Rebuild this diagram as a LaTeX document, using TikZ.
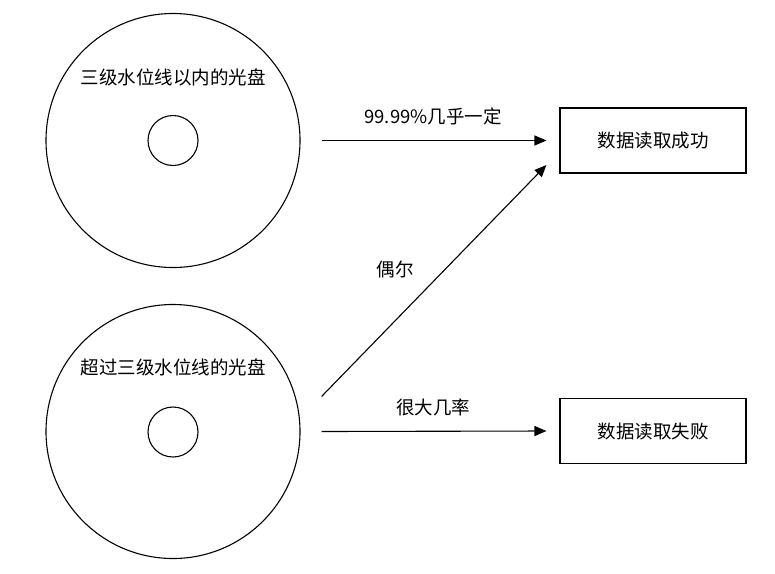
\documentclass[tikz,border=0pt]{standalone}
\usepackage{fontspec}
\setmainfont{Noto Sans CJK SC}
\usepackage{tikz}
\usetikzlibrary{arrows.meta,positioning,calc}
\newcommand{\lbl}{\fontsize{18.5}{22}\selectfont}

\begin{document}
\begin{tikzpicture}[
    x=1pt,y=-1pt,
    disque/.style  = {circle, draw=black, line width=1.1pt, minimum size=254pt,
                      inner sep=0pt},
    trou/.style    = {circle, draw=black, line width=1.1pt, minimum size=50pt,
                      inner sep=0pt},
    boite/.style   = {rectangle, draw=black, line width=1.1pt,
                      minimum width=186pt, minimum height=65pt, font=\lbl},
    texte/.style   = {font=\lbl, inner sep=0pt},
    fleche/.style  = {black, line width=1.1pt,
                      -{Triangle[length=12pt,width=10pt]}},
  ]
  \useasboundingbox (0,0) rectangle (775,573);

  % ── Disques ─────────────────────────────────────────────────────────────
  \node[disque] (discA) at (173,140.5) {};
  \node[trou]   (trouA) at (173,140.5) {};
  \node[texte]  (nomA)  at (173,77)    {三级水位线以内的光盘};

  \node[disque] (discB) at (173,431.5) {};
  \node[trou]   (trouB) at (173,432)   {};
  \node[texte]  (nomB)  at (173,367)   {超过三级水位线的光盘};

  % ── Résultats ───────────────────────────────────────────────────────────
  \node[boite] (succes) at (653,140.5) {数据读取成功};
  \node[boite] (echec)  at (653,431)   {数据读取失败};

  % ── Liaisons ────────────────────────────────────────────────────────────
  \draw[fleche] ([xshift=21pt]discA.east) -- ([xshift=-13pt]succes.west);
  \draw[fleche] ([xshift=21pt,yshift=35pt]discB.east)
                -- ([xshift=-13pt,yshift=-24.5pt]succes.west);
  \draw[fleche] ([xshift=21pt]discB.east) -- ([xshift=-13pt]echec.west);

  \node[texte] (pA) at (433,116) {99.99\%几乎一定};
  \node[texte] (pB) at (395,269) {偶尔};
  \node[texte] (pC) at (433,407) {很大几率};

\end{tikzpicture}
\end{document}
